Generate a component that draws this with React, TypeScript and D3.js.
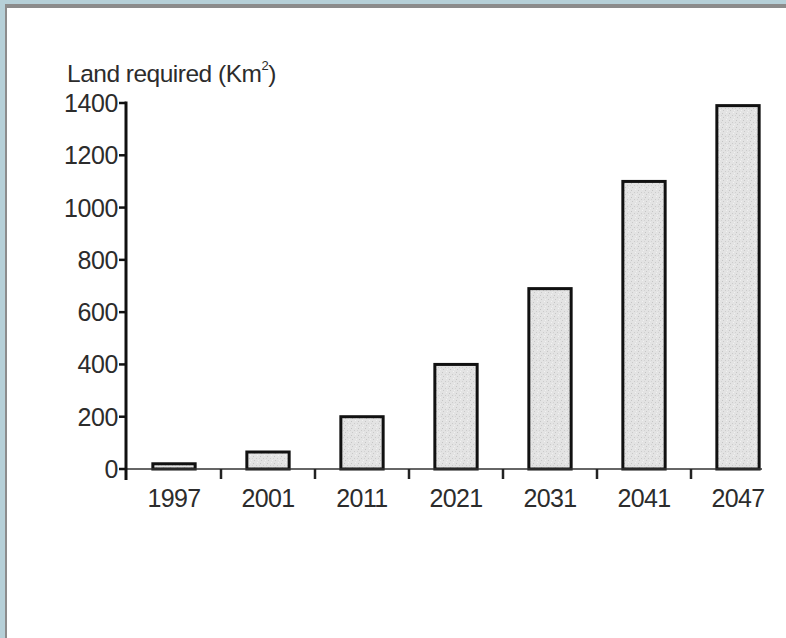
import React from "react";
import * as d3 from "d3";

// 차트 데이터
const years = ["1997", "2001", "2011", "2021", "2031", "2041", "2047"];
const landRequired = [20, 65, 200, 400, 690, 1100, 1390];
const yTicks = [0, 200, 400, 600, 800, 1000, 1200, 1400];

const W = 786;
const H = 638;
const font = "'Liberation Sans', Arial, sans-serif";
const textColor = "#2c2c2c";

const App: React.FC = () => {
  // x축: 연도 밴드, y축: 면적
  const x = d3.scaleBand<string>()
    .domain(years)
    .range([127, 785])
    .paddingInner(0.55)
    .paddingOuter(0.275);
  const y = d3.scaleLinear().domain([0, 1400]).range([469, 103]);
  const step = x.step();
  const x0 = x.range()[0];

  return (
    <svg width={W} height={H} style={{ position: "absolute", left: 0, top: 0 }}>
      <defs>
        <pattern id="stipple" width="7" height="7" patternUnits="userSpaceOnUse">
          <rect width="7" height="7" fill="#e3e3e3" />
          <rect x="1" y="1" width="1" height="1" fill="#c4c4c4" />
          <rect x="4" y="3" width="1" height="1" fill="#cbcbcb" />
          <rect x="2" y="5" width="1" height="1" fill="#c8c8c8" />
          <rect x="5" y="0" width="1" height="1" fill="#f2f2f2" />
          <rect x="6" y="5" width="1" height="1" fill="#f0f0f0" />
          <rect x="0" y="3" width="1" height="1" fill="#d2d2d2" />
        </pattern>
      </defs>

      {/* 배경 프레임 */}
      <rect width={W} height={H} fill="#b6d0d8" />
      <rect x={5} y={4} width={W - 5} height={H - 4} fill="#8c8c8c" />
      <rect x={7} y={8} width={W - 7} height={H - 8} fill="#ffffff" />

      {/* y축 제목 */}
      <text x={67} y={82} fontFamily={font} fontSize={24.5} fill={textColor} letterSpacing={-0.5}>
        Land required (Km
        <tspan fontSize={13} dy={-12}>2</tspan>
        <tspan dy={12}>)</tspan>
      </text>

      {/* 막대 */}
      {years.map((yr, i) => (
        <rect
          key={yr}
          x={x(yr)}
          y={y(landRequired[i])}
          width={x.bandwidth()}
          height={y(0) - y(landRequired[i])}
          fill="url(#stipple)"
          stroke="#111"
          strokeWidth={3}
        />
      ))}

      {/* x축 */}
      <line x1={126} x2={762} y1={y(0)} y2={y(0)} stroke="#333" strokeWidth={1.6} />
      {years.slice(1).map((yr, i) => {
        const sx = x0 + step * (i + 1);
        return <line key={yr} x1={sx} x2={sx} y1={y(0)} y2={y(0) + 10} stroke="#222" strokeWidth={2.5} />;
      })}
      {years.map(yr => (
        <text
          key={yr}
          x={(x(yr) ?? 0) + x.bandwidth() / 2}
          y={507}
          textAnchor="middle"
          fontFamily={font}
          fontSize={25}
          fill={textColor}
          letterSpacing={-0.6}
        >
          {yr}
        </text>
      ))}

      {/* y축 */}
      <line x1={126} x2={126} y1={y(1400) - 1.5} y2={y(0) + 11} stroke="#111" strokeWidth={3} />
      {yTicks.map(t => (
        <g key={t}>
          <line x1={119} x2={126} y1={y(t)} y2={y(t)} stroke="#111" strokeWidth={2.5} />
          <text
            x={118}
            y={y(t)}
            dy="0.36em"
            textAnchor="end"
            fontFamily={font}
            fontSize={25}
            fill={textColor}
            letterSpacing={-0.4}
          >
            {t}
          </text>
        </g>
      ))}
    </svg>
  );
};

export default App;
